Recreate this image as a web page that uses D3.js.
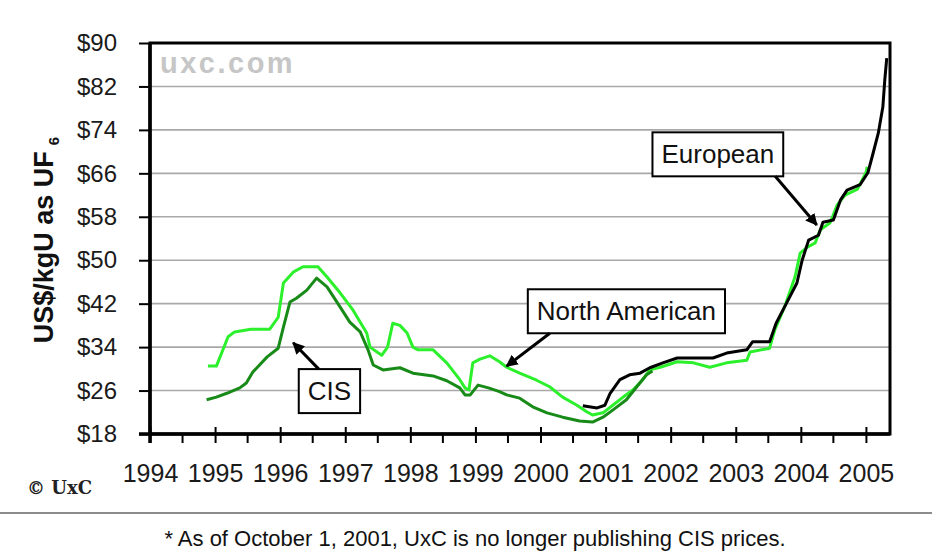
<!DOCTYPE html>
<html lang="en">

<head>
  <meta charset="UTF-8">
  <title>Uranium Conversion Prices</title>
  <script src="https://d3js.org/d3.v7.min.js"></script>
  <style>
    body {
      margin: 0;
      background-color: white;
    }

    svg {
      display: block;
      font-family: "Liberation Sans", Arial, sans-serif;
    }
  </style>
</head>

<body>
  <div id="chart"></div>

  <script>
    // price series (decimal year, US$/kgU)
    const cisYears = [1994.87, 1995.02, 1995.18, 1995.38, 1995.48, 1995.58, 1995.80, 1995.97, 1996.05, 1996.15,
      1996.25, 1996.41, 1996.56, 1996.72, 1996.92, 1997.07, 1997.23, 1997.35, 1997.43, 1997.58, 1997.84,
      1998.04, 1998.35, 1998.56, 1998.76, 1998.84, 1998.92, 1999.04, 1999.20, 1999.37, 1999.48, 1999.68,
      1999.88, 2000.10, 2000.34, 2000.60, 2000.80, 2000.96, 2001.11, 2001.32, 2001.48, 2001.63, 2001.72]
    const cisPrices = [24.3, 24.8, 25.5, 26.5, 27.4, 29.4, 32.2, 33.8, 37.7, 42.3,
      43.0, 44.5, 46.7, 45.1, 41.4, 38.6, 36.8, 33.5, 30.7, 29.8, 30.2,
      29.2, 28.7, 27.8, 26.5, 25.2, 25.2, 27.0, 26.5, 25.8, 25.2, 24.6,
      23.0, 21.9, 21.1, 20.4, 20.2, 21.1, 22.4, 24.3, 26.7, 28.9, 29.6]

    const naYears = [1994.89, 1995.02, 1995.20, 1995.30, 1995.55, 1995.84, 1995.97, 1996.05, 1996.20, 1996.35,
      1996.58, 1996.72, 1996.92, 1997.12, 1997.33, 1997.38, 1997.56, 1997.65, 1997.73, 1997.84, 1997.95,
      1998.04, 1998.12, 1998.35, 1998.56, 1998.76, 1998.84, 1998.90, 1998.96, 1999.07, 1999.22, 1999.37,
      1999.48, 1999.68, 1999.94, 2000.14, 2000.34, 2000.56, 2000.71, 2000.80, 2000.96, 2001.11, 2001.27,
      2001.42, 2001.57, 2001.68, 2001.84, 2002.10, 2002.35, 2002.60, 2002.86, 2003.17, 2003.22, 2003.52,
      2003.60, 2003.75, 2003.91, 2003.99, 2004.10, 2004.22, 2004.30, 2004.45, 2004.56, 2004.68, 2004.87,
      2005.00, 2005.02]
    const naPrices = [30.5, 30.5, 35.9, 36.8, 37.3, 37.3, 39.5, 45.8, 47.8, 48.8,
      48.8, 46.9, 44.0, 40.8, 36.6, 34.0, 32.5, 34.0, 38.4, 38.0, 36.6,
      34.0, 33.5, 33.5, 31.1, 28.0, 26.5, 26.1, 31.1, 31.8, 32.4, 31.3,
      30.3, 29.2, 27.9, 26.7, 24.8, 23.3, 22.1, 21.5, 21.9, 23.3, 24.8,
      26.1, 28.0, 29.8, 30.3, 31.3, 31.1, 30.3, 31.1, 31.6, 33.1, 33.8,
      37.2, 41.4, 46.9, 51.3, 52.4, 53.2, 55.6, 56.9, 60.2, 62.0, 63.1,
      66.1, 67.2]

    const euYears = [2000.65, 2000.87, 2000.99, 2001.07, 2001.22, 2001.37, 2001.53, 2001.68, 2001.88, 2002.10,
      2002.40, 2002.65, 2002.86, 2003.17, 2003.26, 2003.52, 2003.62, 2003.78, 2003.94, 2004.02, 2004.12,
      2004.27, 2004.34, 2004.50, 2004.61, 2004.71, 2004.91, 2005.03, 2005.11, 2005.19, 2005.26, 2005.29,
      2005.32]
    const euPrices = [23.2, 22.8, 23.3, 25.5, 28.0, 28.9, 29.2, 30.2, 31.1, 32.0,
      32.0, 32.0, 32.9, 33.5, 35.0, 35.0, 38.4, 42.1, 45.8, 50.0, 53.7,
      54.6, 57.0, 57.4, 61.1, 62.9, 63.9, 66.1, 69.7, 73.4, 78.2, 83.2,
      87.2]

    const priceTicks = [18, 26, 34, 42, 50, 58, 66, 74, 82, 90]
    const yearTicks = [1994, 1995, 1996, 1997, 1998, 1999, 2000, 2001, 2002, 2003, 2004, 2005]

    // callouts: label centre and arrow tip in data units
    const callouts = [
      { label: 'CIS', year: 1996.757, price: 25.9, tipYear: 1996.2, tipPrice: 34.8, tail: 'top' },
      { label: 'North American', year: 2001.32, price: 40.6, tipYear: 1999.48, tipPrice: 30.5, tail: 'bottom' },
      { label: 'European', year: 2002.725, price: 69.5, tipYear: 2004.245, tipPrice: 56.5, tail: 'bottom' }
    ]

    const width = 932
    const height = 552

    const svg = d3.select('#chart')
      .append('svg')
      .attr('width', width)
      .attr('height', height)

    const x = d3.scaleLinear()
      .domain([1994, 2005.37])
      .range([150, 890])

    const y = d3.scaleLinear()
      .domain([18, 90])
      .range([434, 43])

    // grid lines
    svg.append('g')
      .selectAll('line')
      .data(priceTicks.slice(1, -1))
      .enter()
      .append('line')
      .attr('x1', x(1994))
      .attr('x2', x.range()[1])
      .attr('y1', d => y(d))
      .attr('y2', d => y(d))
      .attr('stroke', '#a9a9a9')
      .attr('stroke-width', 1.6)

    // watermark
    svg.append('text')
      .attr('x', 160)
      .attr('y', 73)
      .attr('font-size', '29px')
      .attr('font-weight', 'bold')
      .attr('letter-spacing', '2.5px')
      .attr('fill', '#c6c6c6')
      .text('uxc.com')

    // frame
    svg.append('rect')
      .attr('x', x(1994))
      .attr('y', y(90))
      .attr('width', x.range()[1] - x(1994))
      .attr('height', y(18) - y(90))
      .attr('fill', 'none')
      .attr('stroke', 'black')
      .attr('stroke-width', 3)

    const yAxis = d3.axisLeft(y)
      .tickValues(priceTicks)
      .tickSize(11)
      .tickPadding(22)
      .tickFormat(d => `$${d}`)

    svg.append('g')
      .attr('transform', `translate(${x(1994)},0)`)
      .call(yAxis)
      .call(g => g.select('.domain').remove())
      .call(g => g.selectAll('line').attr('stroke', 'black').attr('stroke-width', 2))
      .call(g => g.selectAll('text')
        .attr('font-family', '"Liberation Sans", Arial, sans-serif')
        .attr('font-size', '24px')
        .attr('fill', '#1a1a1a'))

    const halfYears = d3.range(1994.5, 2005.4, 1)

    svg.append('g')
      .selectAll('line')
      .data(halfYears)
      .enter()
      .append('line')
      .attr('x1', d => x(d))
      .attr('x2', d => x(d))
      .attr('y1', y(18))
      .attr('y2', y(18) + 9)
      .attr('stroke', 'black')
      .attr('stroke-width', 2)

    const xAxis = d3.axisBottom(x)
      .tickValues(yearTicks)
      .tickSizeInner(9)
      .tickSizeOuter(0)
      .tickPadding(21)
      .tickFormat(d3.format('d'))

    svg.append('g')
      .attr('transform', `translate(0,${y(18)})`)
      .call(xAxis)
      .call(g => g.select('.domain').remove())
      .call(g => g.selectAll('line').attr('stroke', 'black').attr('stroke-width', 2).attr('y1', -7))
      .call(g => g.selectAll('text')
        .attr('font-family', '"Liberation Sans", Arial, sans-serif')
        .attr('font-size', '25px')
        .attr('fill', '#1a1a1a'))

    // thick axis lines
    svg.append('line')
      .attr('x1', x(1994) - 11)
      .attr('x2', x.range()[1])
      .attr('y1', y(18))
      .attr('y2', y(18))
      .attr('stroke', 'black')
      .attr('stroke-width', 3.5)

    svg.append('line')
      .attr('x1', x(1994))
      .attr('x2', x(1994))
      .attr('y1', y(90))
      .attr('y2', y(18) + 9)
      .attr('stroke', 'black')
      .attr('stroke-width', 3.5)

    const line = d3.line()
      .x(d => x(d[0]))
      .y(d => y(d[1]))

    const series = [
      { years: naYears, prices: naPrices, color: '#2bf02b' },
      { years: cisYears, prices: cisPrices, color: '#178a17' },
      { years: euYears, prices: euPrices, color: '#000000' }
    ]

    svg.append('g')
      .selectAll('path')
      .data(series)
      .enter()
      .append('path')
      .attr('d', d => line(d3.zip(d.years, d.prices)))
      .attr('fill', 'none')
      .attr('stroke', d => d.color)
      .attr('stroke-width', 3)
      .attr('stroke-linejoin', 'round')

    // y axis title
    svg.append('text')
      .attr('transform', `translate(44,240) rotate(-90)`)
      .attr('text-anchor', 'middle')
      .attr('dominant-baseline', 'central')
      .attr('font-size', '27px')
      .attr('font-weight', 'bold')
      .attr('fill', '#111')
      .text('US$/kgU as UF')
      .append('tspan')
      .attr('font-size', '15px')
      .attr('dx', 6)
      .attr('dy', 9)
      .text('6')

    // callouts
    svg.append('defs')
      .append('marker')
      .attr('id', 'head')
      .attr('viewBox', '0 0 10 10')
      .attr('refX', 9)
      .attr('refY', 5)
      .attr('markerWidth', 4)
      .attr('markerHeight', 4)
      .attr('orient', 'auto')
      .append('path')
      .attr('d', 'M0,0L10,5L0,10z')
      .attr('fill', 'black')

    callouts.forEach(c => {
      const g = svg.append('g')
      const label = g.append('text')
        .attr('x', x(c.year))
        .attr('y', y(c.price))
        .attr('text-anchor', 'middle')
        .attr('dominant-baseline', 'central')
        .attr('font-size', '26px')
        .attr('fill', '#111')
        .text(c.label)
      const bb = label.node().getBBox()
      const bw = bb.width + 18
      const bh = 44
      const bx = x(c.year) - bw / 2
      const by = y(c.price) - bh / 2
      g.insert('rect', 'text')
        .attr('x', bx)
        .attr('y', by)
        .attr('width', bw)
        .attr('height', bh)
        .attr('fill', 'white')
        .attr('stroke', 'black')
        .attr('stroke-width', 2)

      const tipX = x(c.tipYear)
      const tipY = y(c.tipPrice)
      const tailX = c.label === 'North American' ? bx + 22 : c.label === 'CIS' ? bx + 20 : bx + bw - 8
      const tailY = c.tail === 'top' ? by : by + bh
      g.append('line')
        .attr('x1', tailX)
        .attr('y1', tailY)
        .attr('x2', tipX)
        .attr('y2', tipY)
        .attr('stroke', 'black')
        .attr('stroke-width', 3)
        .attr('marker-end', 'url(#head)')
    })

    // copyright and footnote
    svg.append('text')
      .attr('x', 27)
      .attr('y', 494)
      .attr('font-family', '"DejaVu Serif", serif')
      .attr('font-size', '18px')
      .attr('font-weight', 'bold')
      .attr('fill', '#222')
      .text('© UxC')

    svg.append('line')
      .attr('x1', 0)
      .attr('x2', width)
      .attr('y1', 513)
      .attr('y2', 513)
      .attr('stroke', '#8c8c8c')
      .attr('stroke-width', 2)

    svg.append('text')
      .attr('x', 475)
      .attr('y', 546)
      .attr('text-anchor', 'middle')
      .attr('font-size', '22px')
      .attr('fill', '#111')
      .text('* As of October 1, 2001, UxC is no longer publishing CIS prices.')
  </script>
</body>

</html>
